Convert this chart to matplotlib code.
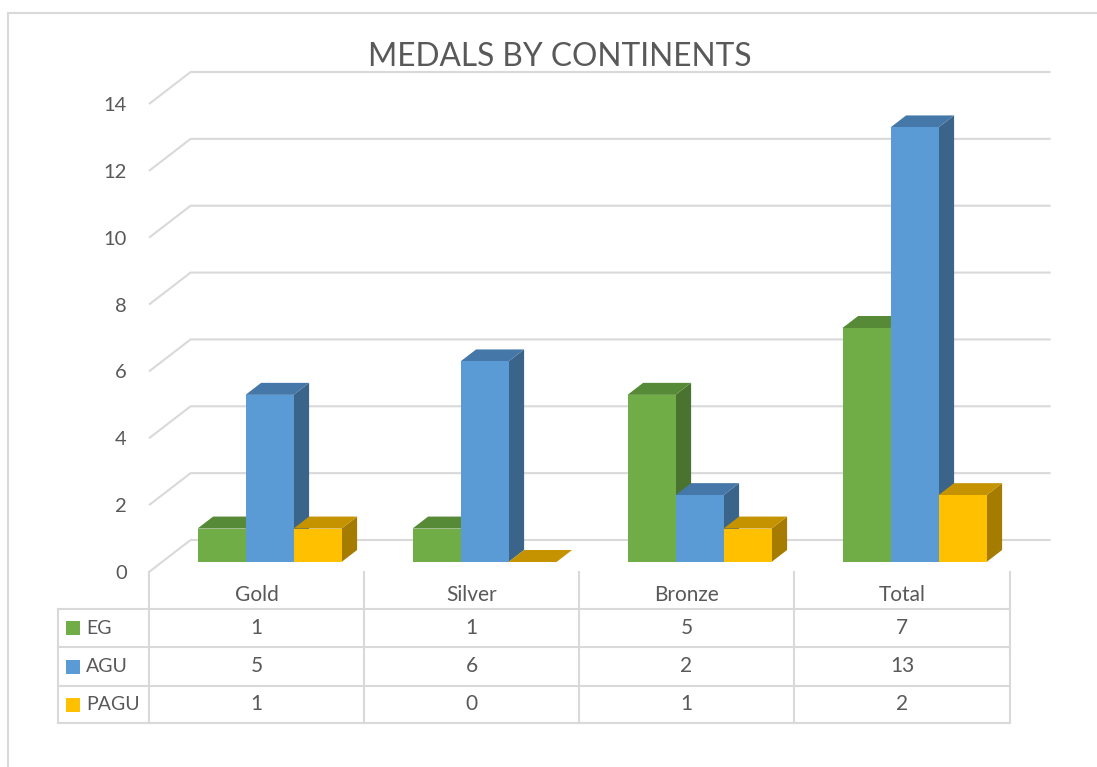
import numpy as np
import matplotlib.pyplot as plt
from matplotlib.patches import Polygon, Rectangle

# data
categories = ['Gold', 'Silver', 'Bronze', 'Total']
series = ['EG', 'AGU', 'PAGU']
eg = [1, 1, 5, 7]
agu = [5, 6, 2, 13]
pagu = [1, 0, 1, 2]
values = [eg, agu, pagu]
yticks = [0, 2, 4, 6, 8, 10, 12, 14]

# colours (front / top / side faces)
front = ['#70AD47', '#5B9BD5', '#FFC000']
top = ['#568A36', '#4577A8', '#C69300']
side = ['#4A7330', '#3A6489', '#A67C00']
grid = '#D9D9D9'
txt = '#595959'

plt.rcParams['font.family'] = ['Lato', 'DejaVu Sans']

W, H = 1097, 767
fig = plt.figure(figsize=(W / 100, H / 100), dpi=100)

# overlay in pixel coords for frame, title and data table
ov = fig.add_axes([0, 0, 1, 1], zorder=0)
ov.set_xlim(0, W)
ov.set_ylim(H, 0)
ov.axis('off')

# front plane of the plot area
x0, x1 = 149, 1009
yb, yt = 572, 104
ax = fig.add_axes([x0 / W, 1 - yb / H, (x1 - x0) / W, (yb - yt) / H], zorder=1)
ax.set_xlim(-0.5, 3.5)
ax.set_ylim(0, 14)
ax.patch.set_visible(False)
for s in ax.spines.values():
    s.set_visible(False)
ax.set_xticks([])
ax.set_yticks(yticks)
ax.tick_params(axis='y', length=0, pad=16, labelsize=14.5, labelcolor=txt)

p0 = ax.transData.transform((0, 0))
p1 = ax.transData.transform((1, 1))
ppx, ppy = p1 - p0


def shift(d):
    # oblique depth offset, d in pixels
    return 1.3 * d / ppx, d / ppy


# gridlines: front-left diagonal then along back wall
gx, gy = shift(32)
for v in yticks:
    ax.plot([-0.5, -0.5 + gx, 3.5 + gx], [v, v + gy, v + gy], color=grid, lw=1.5,
            clip_on=False, zorder=1, solid_capstyle='butt')

# 3d columns
w = 48 / ppx
ax_, ay_ = shift(10)
bx, by = shift(12)
z = 2
for i in range(len(categories)):
    for j in range(len(series)):
        h = values[j][i]
        left = i - 1.5 * w + j * w + ax_
        b = ay_
        sd = Polygon([(left + w, b), (left + w + bx, b + by), (left + w + bx, b + h + by), (left + w, b + h)],
                     closed=True, facecolor=side[j], edgecolor='none', clip_on=False, zorder=z)
        tp = Polygon([(left, b + h), (left + w, b + h), (left + w + bx, b + h + by), (left + bx, b + h + by)],
                     closed=True, facecolor=top[j], edgecolor='none', clip_on=False, zorder=z)
        fr = Rectangle((left, b), w, h, facecolor=front[j], edgecolor='none', clip_on=False, zorder=z)
        ax.add_patch(sd)
        ax.add_patch(tp)
        ax.add_patch(fr)
        z += 1

# chart frame
ov.plot([8, W], [13, 13], color=grid, lw=1.5)
ov.plot([8, 8], [13, H], color=grid, lw=1.5)

# title
ov.text(560, 57, 'MEDALS BY CONTINENTS', fontsize=22.8, color=txt, ha='center', va='center')

# data table
cols = [149, 364, 579, 794, 1010]
rows = [609, 647, 686, 723]
for x in cols:
    ov.plot([x, x], [572, rows[-1]], color=grid, lw=1.5)
ov.plot([58, 58], [rows[0], rows[-1]], color=grid, lw=1.5)
for y in rows:
    ov.plot([58, cols[-1]], [y, y], color=grid, lw=1.5)

fs = 15
for i, c in enumerate(categories):
    cx = (cols[i] + cols[i + 1]) / 2
    ov.text(cx, 595, c, fontsize=fs, color=txt, ha='center', va='center')
    for j in range(len(series)):
        cy = (rows[j] + rows[j + 1]) / 2
        ov.text(cx, cy, str(values[j][i]), fontsize=fs, color=txt, ha='center', va='center')

for j, s in enumerate(series):
    cy = (rows[j] + rows[j + 1]) / 2
    ov.add_patch(Rectangle((66, cy - 7), 14, 14, facecolor=front[j], edgecolor='none'))
    ov.text(86, cy, s, fontsize=14, color=txt, ha='left', va='center')

fig.savefig('out.png', dpi=100)
